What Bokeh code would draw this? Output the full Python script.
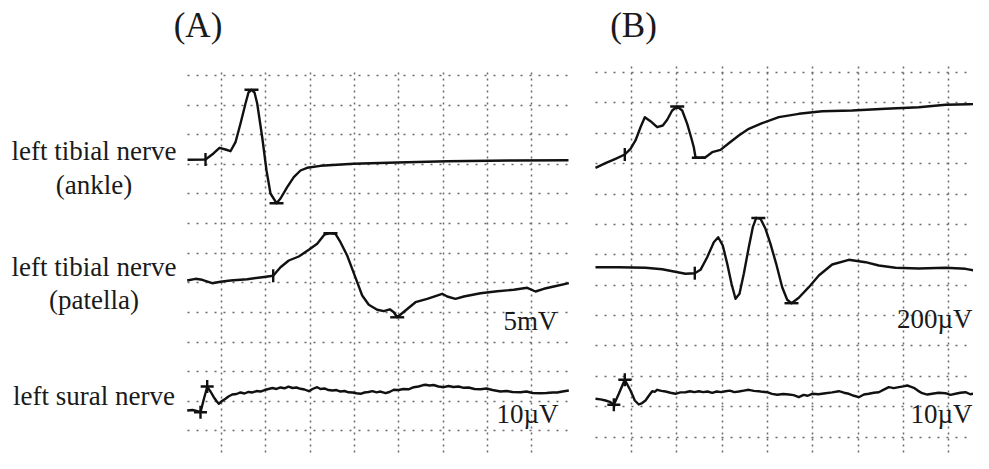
import numpy as np
from bokeh.plotting import figure
from bokeh.models import Range1d, Grid, FixedTicker, Label
from bokeh.embed import file_html
from bokeh.resources import INLINE

# ---------------- data (time in grid divisions, amplitude in grid divisions) ----------------
# Panel A, left tibial nerve (ankle)
a1_t = [-0.767, -0.361, -0.181, -0.045, 0.090, 0.203, 0.316, 0.429, 0.542, 0.609, 0.677, 0.745,
        0.806, 0.919, 1.016, 1.106, 1.242, 1.332, 1.483, 1.632, 1.783, 1.934, 2.235, 2.980,
        3.966, 5.094, 6.591, 7.833]
a1_v = [0.0, 0.01, 0.213, 0.405, 0.348, 0.290, 0.594, 1.226, 1.901, 2.272, 2.363, 2.272,
        1.901, 0.763, -0.361, -1.138, -1.465, -1.307, -0.925, -0.587, -0.361, -0.270, -0.203, -0.135,
        -0.091, -0.047, -0.024, -0.014]
# Panel A, left tibial nerve (patella)
a2_t = [-0.774, -0.587, -0.436, -0.210, -0.023, 0.203, 0.580, 0.919, 1.167, 1.332, 1.519, 1.745,
        1.971, 2.160, 2.325, 2.460, 2.573, 2.686, 2.837, 2.950, 3.063, 3.176, 3.325, 3.515,
        3.664, 3.799, 3.889, 3.966, 4.153, 4.379, 4.643, 4.982, 5.095, 5.282, 5.470, 5.847,
        6.223, 6.598, 6.901, 7.088, 7.275, 7.501, 7.840]
a2_v = [0.0, 0.057, 0.024, -0.091, -0.044, 0.0, 0.044, 0.111, 0.159, 0.449, 0.675, 0.810,
        1.036, 1.239, 1.553, 1.597, 1.577, 1.293, 0.844, 0.395, -0.057, -0.506, -0.820, -0.986,
        -1.036, -0.972, -1.073, -1.242, -1.013, -0.733, -0.618, -0.449, -0.540, -0.618, -0.540, -0.429,
        -0.361, -0.314, -0.246, -0.371, -0.280, -0.203, -0.091]
# Panel A, left sural nerve
a3_t = [-0.774, -0.655, -0.564, -0.474, -0.395, -0.323, -0.248, -0.174, -0.113, -0.061, 0.011, 0.090,
        0.158, 0.242, 0.339, 0.429, 0.519, 0.609, 0.700, 0.790, 0.880, 0.971, 1.061, 1.151,
        1.242, 1.332, 1.422, 1.512, 1.603, 1.693, 1.783, 1.874, 1.971, 2.054, 2.160, 2.235,
        2.325, 2.415, 2.506, 2.596, 2.686, 2.777, 2.867, 2.957, 3.047, 3.138, 3.228, 3.318,
        3.409, 3.499, 3.589, 3.702, 3.792, 3.889, 3.995, 4.108, 4.221, 4.341, 4.447, 4.537,
        4.605, 4.695, 4.786, 4.898, 5.018, 5.124, 5.237, 5.350, 5.470, 5.576, 5.711, 5.847,
        5.982, 6.117, 6.298, 6.433, 6.569, 6.749, 6.885, 7.020, 7.201, 7.336, 7.472, 7.578,
        7.698, 7.840]
a3_v = [0.0, 0.017, -0.017, -0.057, 0.405, 0.793, 0.641, 0.449, 0.321, 0.226, 0.321, 0.395,
        0.473, 0.540, 0.557, 0.608, 0.574, 0.625, 0.608, 0.658, 0.641, 0.692, 0.726, 0.760,
        0.726, 0.777, 0.750, 0.804, 0.760, 0.777, 0.733, 0.709, 0.652, 0.726, 0.787, 0.726,
        0.743, 0.692, 0.675, 0.692, 0.641, 0.658, 0.614, 0.608, 0.581, 0.564, 0.608, 0.625,
        0.652, 0.614, 0.641, 0.584, 0.625, 0.699, 0.692, 0.726, 0.716, 0.787, 0.810, 0.851,
        0.868, 0.844, 0.861, 0.810, 0.787, 0.827, 0.793, 0.810, 0.766, 0.777, 0.726, 0.719,
        0.743, 0.692, 0.641, 0.658, 0.625, 0.618, 0.641, 0.591, 0.584, 0.591, 0.608, 0.608,
        0.641, 0.675]
# Panel B, left tibial nerve (ankle)
b1_t = [-0.795, -0.574, -0.353, -0.148, -0.022, 0.088, 0.199, 0.294, 0.419, 0.567, 0.691, 0.788,
        0.898, 1.009, 1.119, 1.230, 1.325, 1.375, 1.413, 1.486, 1.634, 1.781, 1.965, 2.148,
        2.369, 2.589, 2.885, 3.252, 3.693, 4.210, 4.872, 5.607, 6.342, 6.932, 7.446, 7.887]
b1_v = [0.0, 0.151, 0.296, 0.438, 0.625, 0.899, 1.336, 1.666, 1.534, 1.336, 1.392, 1.580,
        1.886, 2.018, 1.886, 1.448, 0.955, 0.678, 0.349, 0.329, 0.349, 0.513, 0.592, 0.810,
        1.063, 1.284, 1.468, 1.666, 1.777, 1.863, 1.886, 1.942, 1.995, 2.074, 2.093, 2.107]
# Panel B, left tibial nerve (patella)
b2_t = [-0.795, -0.280, 0.309, 0.678, 0.934, 1.192, 1.397, 1.523, 1.671, 1.817, 1.914, 2.015,
        2.113, 2.208, 2.296, 2.384, 2.479, 2.589, 2.678, 2.753, 2.848, 2.958, 3.068, 3.194,
        3.327, 3.437, 3.532, 3.693, 3.914, 4.135, 4.430, 4.797, 5.166, 5.459, 5.828, 6.342,
        6.932, 7.373, 7.667, 7.887]
b2_v = [0.0, 0.0, -0.020, -0.066, -0.142, -0.217, -0.197, -0.086, 0.329, 0.823, 0.987, 0.714,
        0.112, -0.546, -1.040, -0.876, -0.217, 0.658, 1.317, 1.626, 1.593, 1.264, 0.770, 0.112,
        -0.658, -1.073, -1.185, -1.007, -0.658, -0.273, 0.089, 0.244, 0.165, 0.056, -0.020, -0.043,
        -0.020, -0.053, -0.142, -0.197]
# Panel B, left sural nerve
b3_t = [-0.795, -0.684, -0.574, -0.480, -0.390, -0.280, -0.148, -0.022, 0.073, 0.161, 0.235, 0.309,
        0.383, 0.457, 0.512, 0.567, 0.660, 0.751, 0.860, 0.971, 1.080, 1.192, 1.290, 1.390,
        1.486, 1.580, 1.680, 1.781, 1.880, 1.980, 2.075, 2.170, 2.270, 2.369, 2.480, 2.589,
        2.700, 2.810, 2.900, 2.995, 3.100, 3.216, 3.350, 3.472, 3.580, 3.693, 3.800, 3.890,
        3.988, 4.130, 4.283, 4.430, 4.577, 4.690, 4.797, 4.910, 5.018, 5.130, 5.238, 5.350,
        5.459, 5.570, 5.680, 5.790, 5.901, 6.000, 6.086, 6.160, 6.232, 6.320, 6.417, 6.530,
        6.637, 6.780, 6.932, 7.040, 7.152, 7.260, 7.373, 7.480, 7.594, 7.740, 7.887]
b3_v = [0.0, -0.020, -0.056, -0.100, -0.198, 0.165, 0.625, 0.273, -0.056, -0.188, -0.140, -0.056,
        0.100, 0.250, 0.230, 0.296, 0.260, 0.240, 0.200, 0.165, 0.210, 0.217, 0.250, 0.220,
        0.250, 0.220, 0.240, 0.197, 0.240, 0.220, 0.250, 0.270, 0.220, 0.240, 0.270, 0.296,
        0.260, 0.250, 0.230, 0.217, 0.160, 0.132, 0.160, 0.141, 0.120, 0.053, 0.130, 0.100,
        0.165, 0.150, 0.184, 0.210, 0.250, 0.200, 0.165, 0.100, 0.053, 0.140, 0.165, 0.200,
        0.217, 0.300, 0.382, 0.350, 0.382, 0.410, 0.438, 0.400, 0.362, 0.270, 0.184, 0.140,
        0.165, 0.200, 0.184, 0.130, 0.165, 0.200, 0.217, 0.150, 0.184, 0.220, 0.296]

# latency markers: (time, amplitude)
a1_onset = ([-0.361], [0.01]);  a1_peak = ([0.677, 1.242], [2.363, -1.465])
a2_onset = ([1.167], [0.159]);  a2_peak = ([2.460, 3.966], [1.597, -1.242])
a3_cross = ([-0.474, -0.323], [-0.057, 0.810])
b1_onset = ([-0.148], [0.438]); b1_peak = ([1.009, 1.486], [2.018, 0.329])
b2_onset = ([1.397], [-0.197]); b2_peak = ([2.800, 3.532], [1.620, -1.185])
b3_cross = ([-0.390, -0.148], [-0.198, 0.625])

row_labels = [["left tibial nerve", "(ankle)"], ["left tibial nerve", "(patella)"], ["left sural nerve"]]
gain_A = ["5mV", "10µV"]
gain_B = ["200µV", "10µV"]
panel_titles = ["(A)", "(B)"]

# ---------------- layout (reference-pixel geometry) ----------------
W, H = 973, 453
LEFT, TOP = 0, 0
def ax(X): return (X - 221) / 44.3
def ay(Y): return -(Y - 75) / 29.62
def bx(X): return (X - 631) / 45.3
def by(Y): return -(Y - 72) / 30.38

base_A = [ay(159.3), ay(280.0), ay(410.0)]
base_B = [by(167.3), by(266.7), by(398.3)]

p = figure(width=W, height=H, output_backend="svg", toolbar_location=None,
           x_axis_type=None, y_axis_type=None, min_border=0,
           x_range=Range1d(ax(LEFT), ax(LEFT + W)), y_range=Range1d(ay(TOP + H), ay(TOP)))
p.outline_line_color = None
p.background_fill_color = "white"
p.border_fill_color = "white"
p.extra_x_ranges = {"B": Range1d(bx(LEFT), bx(LEFT + W))}
p.extra_y_ranges = {"B": Range1d(by(TOP + H), by(TOP))}

GRID_COLOR = "#6a6a6a"

def add_grid(dim, ticks, bounds, cross, dash, rname):
    g = Grid(dimension=dim, ticker=FixedTicker(ticks=ticks), bounds=bounds,
             grid_line_color=GRID_COLOR, grid_line_width=1.5, grid_line_dash=dash)
    g.x_range_name = rname
    g.y_range_name = rname
    try:
        g.cross_bounds = cross
        p.add_layout(g)
    except AttributeError:
        n = len(ticks)
        kw = dict(line_color=GRID_COLOR, line_width=1.5, line_dash=dash,
                  x_range_name=rname, y_range_name=rname, level="underlay")
        if dim == 0:
            p.segment(x0=ticks, x1=ticks, y0=[cross[0]] * n, y1=[cross[1]] * n, **kw)
        else:
            p.segment(y0=ticks, y1=ticks, x0=[cross[0]] * n, x1=[cross[1]] * n, **kw)

vt = list(range(0, 8))
ht = [-k for k in range(0, 14)]
add_grid(0, vt, (ax(180), ax(575)), (ay(470), ay(70)), "2 4", "default")
add_grid(1, ht, (ay(475), ay(65)), (ax(187), ax(571)), "2 7", "default")
add_grid(0, vt, (bx(590), bx(990)), (by(470), by(66)), "2 4", "B")
add_grid(1, ht, (by(475), by(62)), (bx(595), bx(990)), "2 7", "B")

TRACE = "#111111"
LW = 2.4
def draw(t, v, base, rname):
    p.line(t, [a + base for a in v], line_color=TRACE, line_width=LW, line_join="round",
           x_range_name=rname, y_range_name=rname)

def mark(pts, base, rname, marker, angle=0.0, size=14):
    p.scatter(pts[0], [a + base for a in pts[1]], marker=marker, size=size, angle=angle,
              line_color=TRACE, line_width=LW, x_range_name=rname, y_range_name=rname)

draw(a1_t, a1_v, base_A[0], "default")
draw(a2_t, a2_v, base_A[1], "default")
draw(a3_t, a3_v, base_A[2], "default")
draw(b1_t, b1_v, base_B[0], "B")
draw(b2_t, b2_v, base_B[1], "B")
draw(b3_t, b3_v, base_B[2], "B")

mark(a1_onset, base_A[0], "default", "dash", np.pi / 2, 13)
mark(a1_peak, base_A[0], "default", "dash")
mark(a2_onset, base_A[1], "default", "dash", np.pi / 2, 13)
mark(a2_peak, base_A[1], "default", "dash")
mark(a3_cross, base_A[2], "default", "cross", 0.0, 13)
mark(b1_onset, base_B[0], "B", "dash", np.pi / 2, 13)
mark(b1_peak, base_B[0], "B", "dash")
mark(b2_onset, base_B[1], "B", "dash", np.pi / 2, 13)
mark(b2_peak, base_B[1], "B", "dash")
mark(b3_cross, base_B[2], "B", "cross", 0.0, 13)

FONT = "Liberation Serif"
TXT = "#1a1a1a"
BASELINE_FIX = 11  # Label baseline renders lower than the anchor; compensate (px)
def label(X, Y, text, size="27px", align="center"):
    p.add_layout(Label(x=ax(X), y=ay(Y - BASELINE_FIX), text=text, text_font=FONT,
                       text_font_size=size, text_align=align, text_baseline="alphabetic",
                       text_color=TXT))

label(197.5, 36, panel_titles[0], "35px")
label(633, 36, panel_titles[1], "35px")
label(93.5, 161, row_labels[0][0]); label(93.5, 195, row_labels[0][1])
label(93.5, 277, row_labels[1][0]); label(93.5, 310, row_labels[1][1])
label(93.5, 406, row_labels[2][0])
label(557, 331, gain_A[0], align="right")
label(558, 424, gain_A[1], align="right")
label(972, 329, gain_B[0], align="right")
label(972, 424, gain_B[1], align="right")

open("out.html", "w").write(file_html(p, INLINE))
